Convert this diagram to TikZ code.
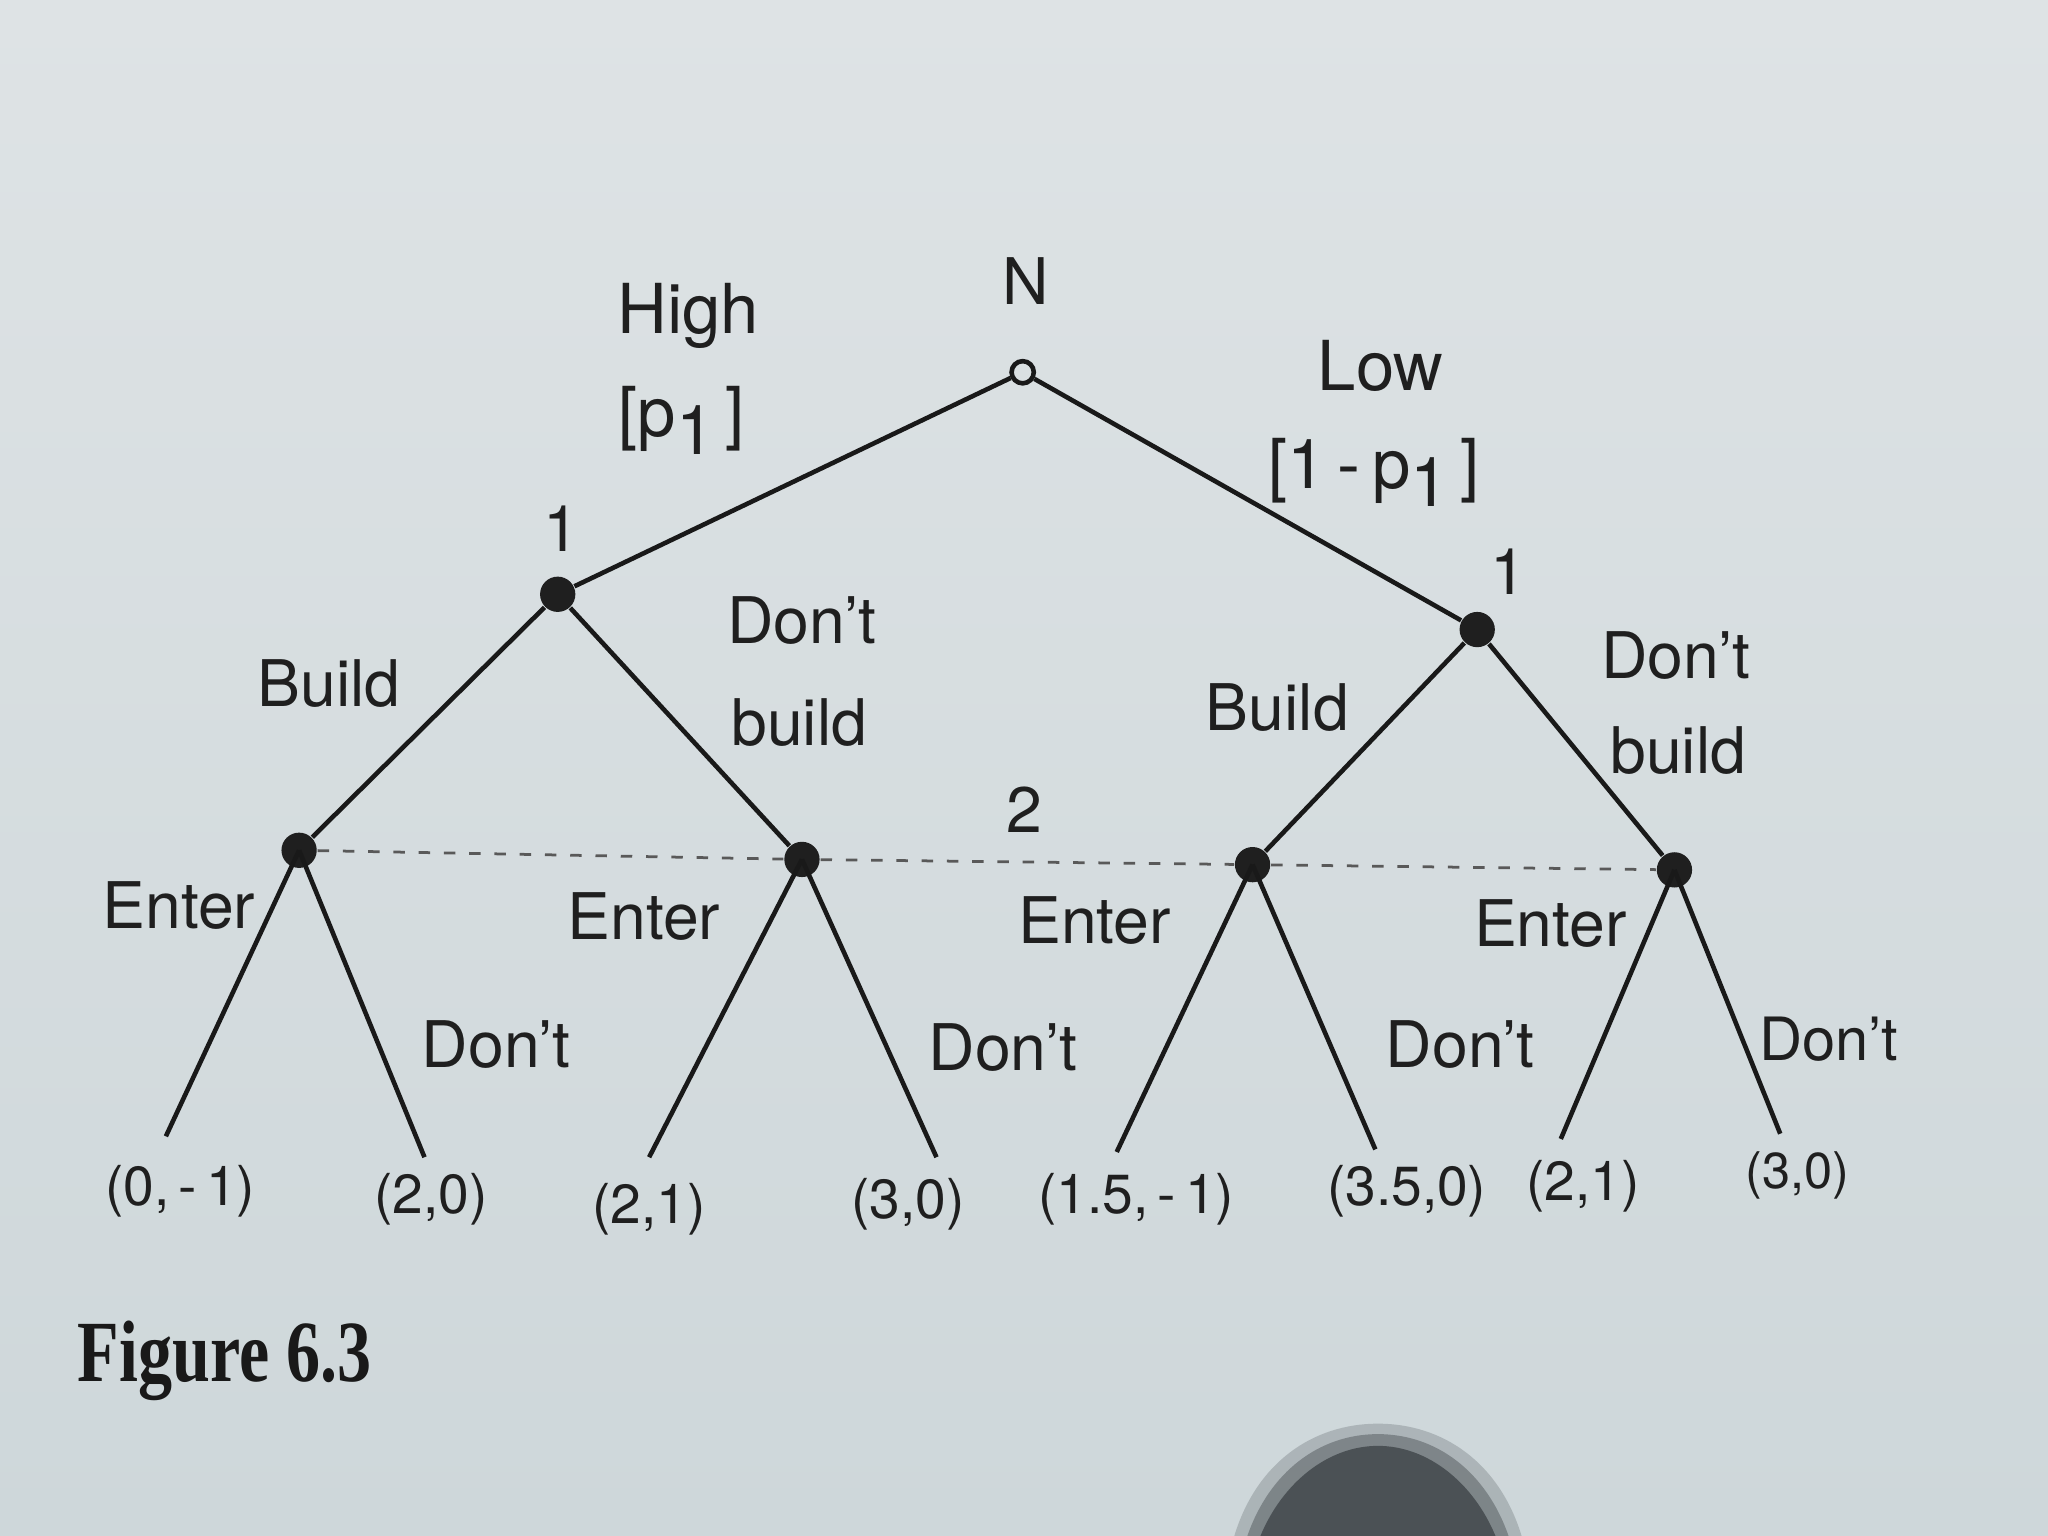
\documentclass[tikz,border=0pt]{standalone}
\usepackage{fontspec}
\setmainfont{TeX Gyre Heros}
\newfontfamily\capfont{Liberation Serif}
\definecolor{paperTop}{RGB}{222,227,229}
\definecolor{paperBot}{RGB}{206,215,218}
\definecolor{shadowc}{RGB}{70,76,80}
\begin{document}
\begin{tikzpicture}[x=0.01cm,y=-0.01cm,
  edge/.style={line width=1pt,black!90},
  chance/.style={circle,draw=black!90,line width=1pt,fill=none,minimum size=0.17cm,inner sep=0pt},
  dec/.style={circle,fill=black!88,minimum size=0.27cm,inner sep=0pt},
  lab/.style={font=\fontsize{14}{16}\selectfont,text=black!88,inner sep=1pt},
  pay/.style={font=\fontsize{12}{14}\selectfont,text=black!88,inner sep=1pt},
  info/.style={dash pattern=on 2.5pt off 3pt,line width=0.6pt,black!65}]
% background
\shade[top color=paperTop,bottom color=paperBot] (0,0) rectangle (1568,1176);
\useasboundingbox (0,0) rectangle (1568,1176);
% shadow blob
\fill[shadowc,opacity=0.25] (945,1176) .. controls (962,1120) and (1005,1090) .. (1055,1090) .. controls (1105,1090) and (1148,1120) .. (1165,1176) -- cycle;
\fill[shadowc,opacity=0.45] (955,1176) .. controls (972,1127) and (1010,1098) .. (1055,1098) .. controls (1100,1098) and (1138,1127) .. (1155,1176) -- cycle;
\fill[shadowc,opacity=0.9] (965,1176) .. controls (982,1135) and (1017,1107) .. (1055,1107) .. controls (1093,1107) and (1128,1135) .. (1145,1176) -- cycle;
% nodes
\node[chance] (N) at (783,285) {};
\node[dec] (a) at (427,455) {};
\node[dec] (b) at (1131,482) {};
\node[dec] (c) at (229,651) {};
\node[dec] (d) at (614,658) {};
\node[dec] (e) at (959,662) {};
\node[dec] (f) at (1282,666) {};
\coordinate (l1) at (127,870);
\coordinate (l2) at (325,886);
\coordinate (l3) at (497,886);
\coordinate (l4) at (717,886);
\coordinate (l5) at (855,882);
\coordinate (l6) at (1053,880);
\coordinate (l7) at (1195,872);
\coordinate (l8) at (1363,868);
% edges
\draw[edge] (N) -- (a);
\draw[edge] (N) -- (b);
\draw[edge] (a) -- (c);
\draw[edge] (a) -- (d);
\draw[edge] (b) -- (e);
\draw[edge] (b) -- (f);
\draw[edge] (c.center) -- (l1);
\draw[edge] (c.center) -- (l2);
\draw[edge] (d.center) -- (l3);
\draw[edge] (d.center) -- (l4);
\draw[edge] (e.center) -- (l5);
\draw[edge] (e.center) -- (l6);
\draw[edge] (f.center) -- (l7);
\draw[edge] (f.center) -- (l8);
% information set
\draw[info] (c) -- (d);
\draw[info] (d) -- (e);
\draw[info] (e) -- (f);
% labels
\node[lab] (tN) at (785,215) {N};
\node[lab,font=\fontsize{15}{17}\selectfont] (tHigh) at (527,242) {High};
\node[lab,font=\fontsize{15}{17}\selectfont] (tp1) at (522,322) {[p\raisebox{-0.5ex}{1}\,]};
\node[lab,font=\fontsize{15}{17}\selectfont] (tLow) at (1057,280) {Low};
\node[lab,font=\fontsize{15}{17}\selectfont] (tp2) at (1052,362) {[1\,-\,p\raisebox{-0.5ex}{1}\,]};
\node[lab] (t1a) at (430,405) {1};
\node[lab] (t1b) at (1155,438) {1};
\node[lab] (tBa) at (252,523) {Build};
\node[lab] (tDa1) at (614,475) {Don’t};
\node[lab] (tDa2) at (612,553) {build};
\node[lab] (tBb) at (978,542) {Build};
\node[lab] (tDb1) at (1283,502) {Don’t};
\node[lab] (tDb2) at (1285,575) {build};
\node[lab] (t2) at (784,620) {2};
\node[lab] (tE1) at (137,693) {Enter};
\node[lab] (tE2) at (493,702) {Enter};
\node[lab] (tE3) at (838,705) {Enter};
\node[lab] (tE4) at (1187,707) {Enter};
\node[lab] (tD1) at (380,800) {Don’t};
\node[lab] (tD2) at (768,802) {Don’t};
\node[lab] (tD3) at (1118,800) {Don’t};
\node[lab,font=\fontsize{13}{15}\selectfont] (tD4) at (1400,796) {Don’t};
% payoffs
\node[pay] (p1) at (138,912) {(0,\,-\,1)};
\node[pay] (p2) at (330,918) {(2,0)};
\node[pay] (p3) at (497,926) {(2,1)};
\node[pay] (p4) at (695,922) {(3,0)};
\node[pay] (p5) at (870,918) {(1.5,\,-\,1)};
\node[pay] (p6) at (1077,912) {(3.5,0)};
\node[pay] (p7) at (1212,908) {(2,1)};
\node[pay,font=\fontsize{11}{13}\selectfont] (p8) at (1376,900) {(3,0)};
% caption
\node[font=\capfont\bfseries\fontsize{19}{21}\selectfont,text=black!90,inner sep=0pt] (cap) at (172,1042) {\scalebox{0.78}[1]{Figure 6.3}};
\end{tikzpicture}
\end{document}
